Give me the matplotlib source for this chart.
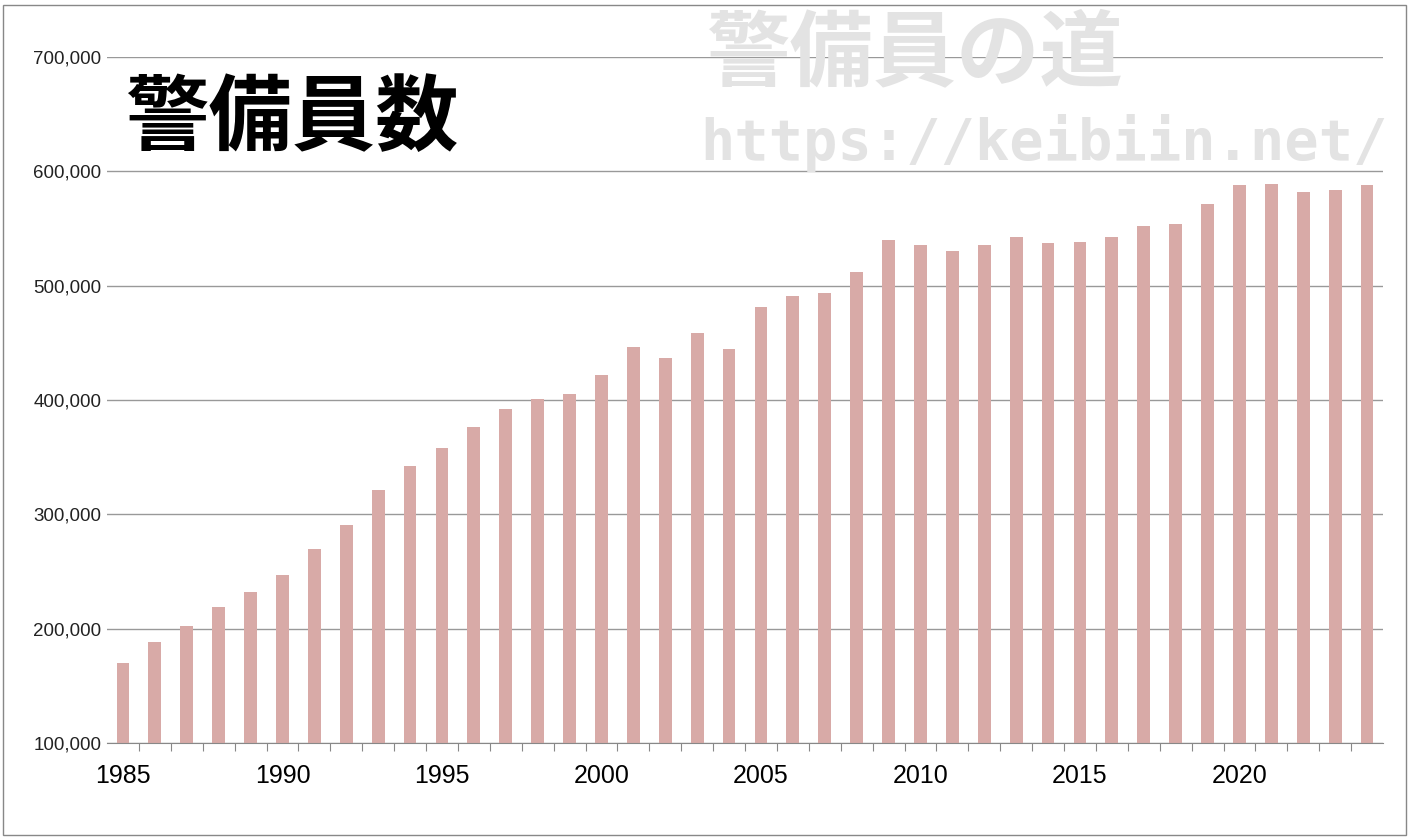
import matplotlib.pyplot as plt
from matplotlib.patches import Rectangle

plt.rcParams['font.family'] = ['Noto Sans CJK JP', 'DejaVu Sans']

years = list(range(1985, 2025))
guards = [170000, 188000, 202000, 219000, 232000, 247000, 270000, 291000, 321000, 342000,
          358000, 376000, 392000, 401000, 405000, 422000, 446000, 437000, 459000, 445000,
          481000, 491000, 494000, 512000, 540000, 536000, 530000, 536000, 543000, 537000,
          538000, 543000, 552000, 554000, 571000, 588000, 589000, 582000, 584000, 588000]
major_years = [1985, 1990, 1995, 2000, 2005, 2010, 2015, 2020]

fig = plt.figure(figsize=(14.09, 8.38), dpi=100)
ax = fig.add_axes([107/1409, 1-743/838, 1276/1409, 686/838])
ax.bar(years, guards, width=0.4, color='#d8aaa7', zorder=2)
ax.set_xlim(1984.5, 2024.5)
ax.set_ylim(100000, 700000)
ax.set_yticks(range(100000, 700001, 100000))
ax.set_yticklabels([f'{v:,}' for v in range(100000, 700001, 100000)],
                   fontsize=13.5, family=['Liberation Sans'], color='#222222')
ax.set_xticks([y + 0.5 for y in years[:-1]])
ax.set_xticklabels([])
ax.tick_params(axis='x', length=6, color='#888888')
ax.tick_params(axis='y', length=0, pad=4)
for y in major_years:
    ax.text(y, -0.03, str(y), transform=ax.get_xaxis_transform(), ha='center', va='top',
            fontsize=18, family=['Liberation Sans'])
ax.grid(axis='y', color='#999999', linewidth=1, zorder=0)
for s in ['top', 'right', 'left']:
    ax.spines[s].set_visible(False)
ax.spines['bottom'].set_color('#888888')

fig.text(125/1409, 1-120/838, '警備員数', fontsize=60, fontweight='bold', va='center', ha='left')
fig.text(706/1409, 1-55/838, '警備員の道', fontsize=60, fontweight='bold', color='#e3e3e3',
         va='center', ha='left')
fig.text(700/1409, 1-143/838, 'https://keibiin.net/', fontsize=41, color='#e3e3e3',
         va='center', ha='left', family=['DejaVu Sans Mono'], fontweight='bold')
fig.patches.append(Rectangle((3/1409, 3/838), 1403/1409, 830/838, transform=fig.transFigure,
                             fill=False, edgecolor='#888888', linewidth=1))

fig.savefig('out.png', dpi=100)
